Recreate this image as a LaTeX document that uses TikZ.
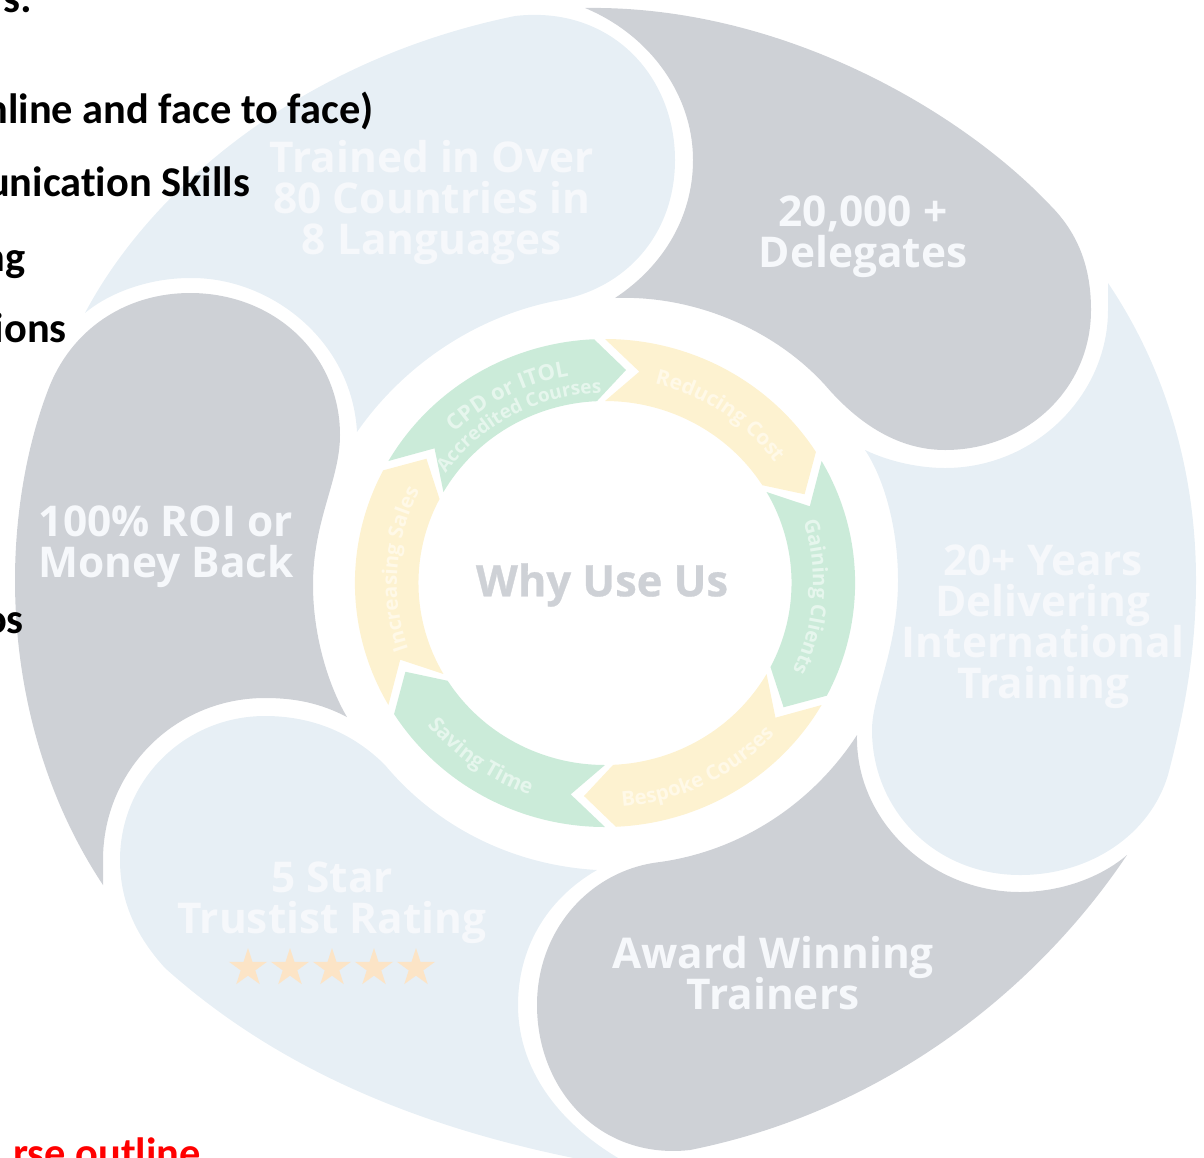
\documentclass[tikz,border=0pt]{standalone}
\usepackage{fontspec}
\usetikzlibrary{shapes.geometric,decorations.text}
\setmainfont{Open Sans}
\newfontfamily\bigfont{Open Sans}[BoldFont=* Bold]
\newfontfamily\whyfont{Open Sans}[BoldFont=* Bold,BoldFeatures={FakeBold=0.7}]
\newfontfamily\calfont{Carlito}[Ligatures=NoCommon]
\definecolor{pblue}{HTML}{E7EFF5}
\definecolor{pgray}{HTML}{CED1D6}
\definecolor{rgreen}{HTML}{CBEBD9}
\definecolor{ryellow}{HTML}{FDF2D0}
\definecolor{pstar}{HTML}{FCE4C6}
\definecolor{wtext}{HTML}{F6F8FB}
\definecolor{gtext}{HTML}{E6F6ED}
\definecolor{ytext}{HTML}{FFF9E8}
\lineskiplimit=-100pt
\tikzset{
 bigtext/.style={text=wtext,font=\bigfont\bfseries\fontsize{42.4}{41}\selectfont,align=center,inner sep=0pt},
 blacktext/.style={text=black,font=\calfont\bfseries\fontsize{42.4}{42}\selectfont,inner sep=0pt,anchor=base east},
 starmark/.style={star,star points=5,star point ratio=2.618,fill=pstar,draw=none,minimum size=40pt,inner sep=0pt}
}
\newcommand\ringseg[2]{\fill[#2] (#1:244) arc[start angle=#1,delta angle=-57.5,radius=244] -- ({#1-65.5}:214) -- ({#1-57.5}:182) arc[start angle={#1-57.5},delta angle=57.5,radius=182] -- ({#1-9}:214) -- cycle;}
\newcommand\ringlabel[6]{\path[decorate,decoration={text along path,text align=center,text={|\bigfont\bfseries\fontsize{#5}{#5}\selectfont\color{#6}|#4}}] (#1:#3) arc[start angle=#1,delta angle=#2,radius=#3];}
\begin{document}
\begin{tikzpicture}[x=1pt,y=-1pt]
\useasboundingbox (0,0) rectangle (1204,1157);
\clip (0,0) rectangle (1204,1157);
% top blue petal
\fill[pblue] (85,313) .. controls (150,190) and (300,60) .. (515,16)
 .. controls (610,5) and (675,75) .. (675,160)
 .. controls (675,235) and (625,290) .. (555,301)
 .. controls (470,318) and (400,370) .. (357,432)
 .. controls (352,340) and (270,277) .. (190,278)
 .. controls (150,278) and (110,292) .. (85,313) -- cycle;
% right gray petal
\fill[pgray] (585,8) .. controls (780,5) and (960,110) .. (1050,205)
 .. controls (1080,235) and (1091,270) .. (1091,310)
 .. controls (1091,390) and (1025,450) .. (945,450)
 .. controls (895,450) and (855,420) .. (825,385)
 .. controls (775,330) and (695,295) .. (615,298)
 .. controls (665,265) and (693,215) .. (693,160)
 .. controls (693,95) and (650,35) .. (585,8) -- cycle;
% right blue petal
\fill[pblue] (1108,283) .. controls (1170,375) and (1196,480) .. (1196,580)
 .. controls (1196,650) and (1185,710) .. (1168,775)
 .. controls (1150,835) and (1090,875) .. (1020,875)
 .. controls (935,875) and (872,810) .. (872,730)
 .. controls (872,695) and (898,650) .. (898,580)
 .. controls (898,530) and (885,480) .. (865,450)
 .. controls (890,462) and (920,468) .. (945,468)
 .. controls (1035,468) and (1108,395) .. (1108,310) -- cycle;
% bottom gray petal
\fill[pgray] (1127,855) .. controls (1040,985) and (890,1110) .. (690,1150)
 .. controls (600,1160) and (537,1090) .. (537,1005)
 .. controls (537,930) and (590,870) .. (660,862)
 .. controls (745,850) and (815,800) .. (857,735)
 .. controls (855,820) and (930,892) .. (1020,892)
 .. controls (1060,892) and (1100,878) .. (1127,855) -- cycle;
% bottom blue petal
\fill[pblue] (640,1170) .. controls (450,1140) and (290,1080) .. (165,968)
 .. controls (135,935) and (120,900) .. (120,860)
 .. controls (120,780) and (185,716) .. (265,716)
 .. controls (315,716) and (355,735) .. (385,765)
 .. controls (435,825) and (510,865) .. (597,870)
 .. controls (545,900) and (518,950) .. (518,1005)
 .. controls (518,1070) and (560,1130) .. (640,1170) -- cycle;
% left gray petal
\fill[pgray] (103,885) .. controls (40,790) and (15,680) .. (15,580)
 .. controls (15,510) and (28,440) .. (50,385)
 .. controls (75,325) and (130,293) .. (190,293)
 .. controls (275,293) and (340,355) .. (340,435)
 .. controls (340,480) and (313,520) .. (313,585)
 .. controls (313,635) and (328,685) .. (347,717)
 .. controls (320,703) and (295,698) .. (265,698)
 .. controls (175,698) and (103,770) .. (103,860) -- cycle;
% left clipped black text
\node[blacktext] (t1) at (32,12) {s:};
\node[blacktext] (t2) at (374,123) {nline and face to face)};
\node[blacktext] (t3) at (250,196) {unication Skills};
\node[blacktext] (t4) at (26,271) {ng};
\node[blacktext] (t5) at (67,342) {ions};
\node[blacktext] (t6) at (24,633) {os};
\node[blacktext,text=red] (t7) at (201,1167) {rse outline};
% big labels
\node[bigtext] (n1) at (432,202) {Trained in Over\\80 Countries in\\8 Languages};
\node[bigtext] (n2) at (863,237) {20,000 +\\Delegates};
\node[bigtext] (n3) at (1043,627) {20+ Years\\Delivering\\International\\Training};
\node[bigtext] (n4) at (773,973) {Award Winning\\Trainers};
\node[bigtext] (n5) at (332,903) {5 Star\\Trustist Rating};
\node[bigtext] (n6) at (166,547) {100\% ROI or\\Money Back};
\foreach \i/\x in {1/248,2/290,3/332,4/374,5/416}
  \node[starmark] (s\i) at (\x,968) {};
\node[bigtext,text=pgray,font=\whyfont\bfseries\fontsize{43.4}{45}\selectfont] (c) at (602,585) {Why Use Us};
% ring
\begin{scope}[shift={(605,583)},x=1.025pt,y=1pt]
\ringseg{150}{rgreen}
\ringseg{90}{ryellow}
\ringseg{30}{rgreen}
\ringseg{-30}{ryellow}
\ringseg{-90}{rgreen}
\ringseg{-150}{ryellow}
\ringlabel{83}{-54}{205}{Reducing Cost}{21}{ytext}
\ringlabel{26}{-60}{203}{Gaining Clients}{20.5}{gtext}
\ringlabel{-94}{60}{224}{Bespoke Courses}{20.5}{ytext}
\ringlabel{-156}{62}{224}{Saving Time}{21}{gtext}
\ringlabel{206}{-60}{203}{Increasing Sales}{20.5}{ytext}
\ringlabel{147}{-60}{210}{CPD or ITOL}{22}{gtext}
\ringlabel{151}{-66}{190}{Accredited Courses}{19}{gtext}
\end{scope}
\end{tikzpicture}
\end{document}
